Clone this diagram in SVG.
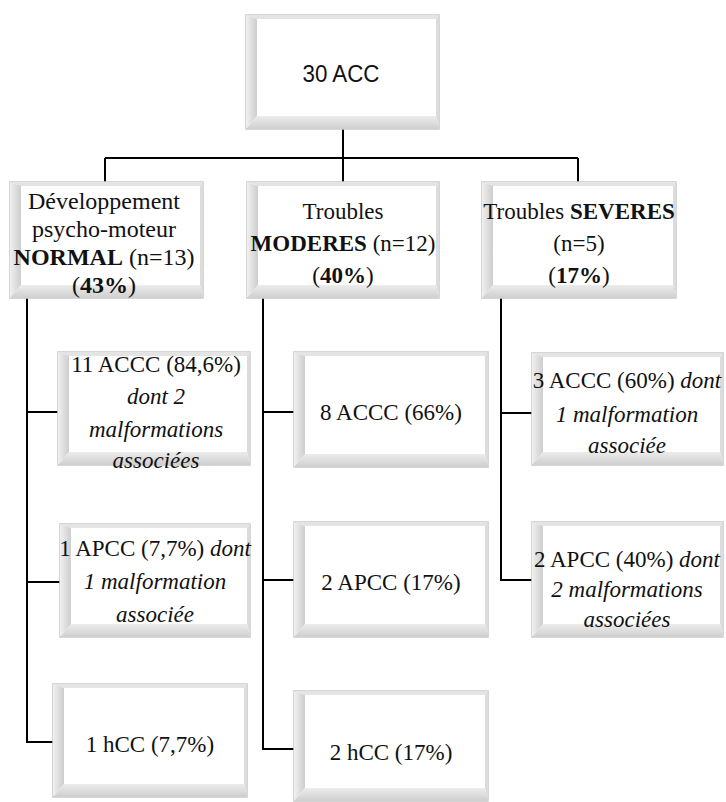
<svg xmlns="http://www.w3.org/2000/svg" width="726" height="802" viewBox="0 0 726 802">
<defs>
<linearGradient id="gL" x1="0" y1="0" x2="1" y2="0"><stop offset="0" stop-color="#f0f0f0"/><stop offset="1" stop-color="#cdcdcd"/></linearGradient>
<linearGradient id="gB" x1="0" y1="0" x2="0" y2="1"><stop offset="0" stop-color="#ececec"/><stop offset="1" stop-color="#cfcfcf"/></linearGradient>
</defs>
<style>
.frame{fill:#ffffff;stroke:#c9c9c9;stroke-width:1.5}
.bt{fill:#e4e4e4}
.bl{fill:url(#gL)}
.br{fill:#dcdcdc}
.bb{fill:url(#gB)}
.t{font-family:"Liberation Serif","Times New Roman",serif;fill:#111111;text-anchor:middle}
.s{font-family:"Liberation Sans",Arial,sans-serif;fill:#111111;text-anchor:middle;font-size:24px}
.l1{font-size:24px}
.l2{font-size:23px}
.c{font-size:23px}
.i{font-style:italic}
.b{font-weight:bold}
.con{fill:none;stroke:#000000;stroke-width:2}
</style>
<g id="connectors" class="con">
<path d="M343,129 V158 M105,158 H578 M105,158 V182 M343,158 V182 M578,158 V182"/>
<path d="M27,298 V742 H53 M27,412 H58 M27,582 H60"/>
<path d="M263,298 V749 H294 M263,412 H294 M263,580 H294"/>
<path d="M501,298 V580 H532 M501,413 H532"/>
</g>
<g id="n-root">
<rect class="frame" x="246" y="15" width="193" height="114"/>
<polygon class="bt" points="246,15 439,15 436,19 257,19"/>
<polygon class="bl" points="246,15 257,19 257,116 246,129"/>
<polygon class="br" points="439,15 439,129 436,116 436,19"/>
<polygon class="bb" points="246,129 257,116 436,116 439,129"/>
<text class="s" x="341" y="82" textLength="77" lengthAdjust="spacingAndGlyphs">30 ACC</text>
</g>
<g id="n-normal">
<rect class="frame" x="10" y="182" width="193" height="116"/>
<polygon class="bt" points="10,182 203,182 200,186 21,186"/>
<polygon class="bl" points="10,182 21,186 21,285 10,298"/>
<polygon class="br" points="203,182 203,298 200,285 200,186"/>
<polygon class="bb" points="10,298 21,285 200,285 203,298"/>
<text class="t l1" x="104" y="209">Développement</text>
<text class="t l1" x="104" y="237">psycho-moteur</text>
<text class="t l1" x="104" y="265"><tspan class="b">NORMAL</tspan> (n=13)</text>
<text class="t l1" x="104" y="293">(<tspan class="b">43%</tspan>)</text>
</g>
<g id="n-moderes">
<rect class="frame" x="247" y="182" width="192" height="116"/>
<polygon class="bt" points="247,182 439,182 436,186 258,186"/>
<polygon class="bl" points="247,182 258,186 258,285 247,298"/>
<polygon class="br" points="439,182 439,298 436,285 436,186"/>
<polygon class="bb" points="247,298 258,285 436,285 439,298"/>
<text class="t l2" x="343" y="219">Troubles</text>
<text class="t l2" x="343" y="251"><tspan class="b">MODERES</tspan> (n=12)</text>
<text class="t l2" x="343" y="283">(<tspan class="b">40%</tspan>)</text>
</g>
<g id="n-severes">
<rect class="frame" x="482" y="182" width="194" height="116"/>
<polygon class="bt" points="482,182 676,182 673,186 493,186"/>
<polygon class="bl" points="482,182 493,186 493,285 482,298"/>
<polygon class="br" points="676,182 676,298 673,285 673,186"/>
<polygon class="bb" points="482,298 493,285 673,285 676,298"/>
<text class="t l2" x="579" y="219">Troubles <tspan class="b">SEVERES</tspan></text>
<text class="t l2" x="579" y="251">(n=5)</text>
<text class="t l2" x="579" y="283">(<tspan class="b">17%</tspan>)</text>
</g>
<g id="n-normal-accc">
<rect class="frame" x="58" y="352" width="192" height="113"/>
<polygon class="bt" points="58,352 250,352 247,356 69,356"/>
<polygon class="bl" points="58,352 69,356 69,452 58,465"/>
<polygon class="br" points="250,352 250,465 247,452 247,356"/>
<polygon class="bb" points="58,465 69,452 247,452 250,465"/>
<text class="t c" x="156" y="372">11 ACCC (84,6%)</text>
<text class="t c i" x="156" y="404">dont 2</text>
<text class="t c i" x="156" y="437">malformations</text>
<text class="t c i" x="156" y="468">associées</text>
</g>
<g id="n-normal-apcc">
<rect class="frame" x="60" y="524" width="190" height="113"/>
<polygon class="bt" points="60,524 250,524 247,528 71,528"/>
<polygon class="bl" points="60,524 71,528 71,624 60,637"/>
<polygon class="br" points="250,524 250,637 247,624 247,528"/>
<polygon class="bb" points="60,637 71,624 247,624 250,637"/>
<text class="t c" x="155" y="556">1 APCC (7,7%) <tspan class="i">dont</tspan></text>
<text class="t c i" x="155" y="589">1 malformation</text>
<text class="t c i" x="155" y="622">associée</text>
</g>
<g id="n-normal-hcc">
<rect class="frame" x="53" y="684" width="194" height="113"/>
<polygon class="bt" points="53,684 247,684 244,688 64,688"/>
<polygon class="bl" points="53,684 64,688 64,784 53,797"/>
<polygon class="br" points="247,684 247,797 244,784 244,688"/>
<polygon class="bb" points="53,797 64,784 244,784 247,797"/>
<text class="t c" x="150" y="752">1 hCC (7,7%)</text>
</g>
<g id="n-mod-accc">
<rect class="frame" x="294" y="352" width="194" height="115"/>
<polygon class="bt" points="294,352 488,352 485,356 305,356"/>
<polygon class="bl" points="294,352 305,356 305,454 294,467"/>
<polygon class="br" points="488,352 488,467 485,454 485,356"/>
<polygon class="bb" points="294,467 305,454 485,454 488,467"/>
<text class="t c" x="391" y="420">8 ACCC (66%)</text>
</g>
<g id="n-mod-apcc">
<rect class="frame" x="294" y="522" width="194" height="115"/>
<polygon class="bt" points="294,522 488,522 485,526 305,526"/>
<polygon class="bl" points="294,522 305,526 305,624 294,637"/>
<polygon class="br" points="488,522 488,637 485,624 485,526"/>
<polygon class="bb" points="294,637 305,624 485,624 488,637"/>
<text class="t c" x="391" y="590">2 APCC (17%)</text>
</g>
<g id="n-mod-hcc">
<rect class="frame" x="294" y="691" width="194" height="110"/>
<polygon class="bt" points="294,691 488,691 485,695 305,695"/>
<polygon class="bl" points="294,691 305,695 305,788 294,801"/>
<polygon class="br" points="488,691 488,801 485,788 485,695"/>
<polygon class="bb" points="294,801 305,788 485,788 488,801"/>
<text class="t c" x="391" y="760">2 hCC (17%)</text>
</g>
<g id="n-sev-accc">
<rect class="frame" x="532" y="353" width="191" height="112"/>
<polygon class="bt" points="532,353 723,353 720,357 543,357"/>
<polygon class="bl" points="532,353 543,357 543,452 532,465"/>
<polygon class="br" points="723,353 723,465 720,452 720,357"/>
<polygon class="bb" points="532,465 543,452 720,452 723,465"/>
<text class="t c" x="627" y="388">3 ACCC (60%) <tspan class="i">dont</tspan></text>
<text class="t c i" x="627" y="422">1 malformation</text>
<text class="t c i" x="627" y="453">associée</text>
</g>
<g id="n-sev-apcc">
<rect class="frame" x="532" y="522" width="191" height="115"/>
<polygon class="bt" points="532,522 723,522 720,526 543,526"/>
<polygon class="bl" points="532,522 543,526 543,624 532,637"/>
<polygon class="br" points="723,522 723,637 720,624 720,526"/>
<polygon class="bb" points="532,637 543,624 720,624 723,637"/>
<text class="t c" x="627" y="567">2 APCC (40%) <tspan class="i">dont</tspan></text>
<text class="t c i" x="627" y="597">2 malformations</text>
<text class="t c i" x="627" y="627">associées</text>
</g>
</svg>
